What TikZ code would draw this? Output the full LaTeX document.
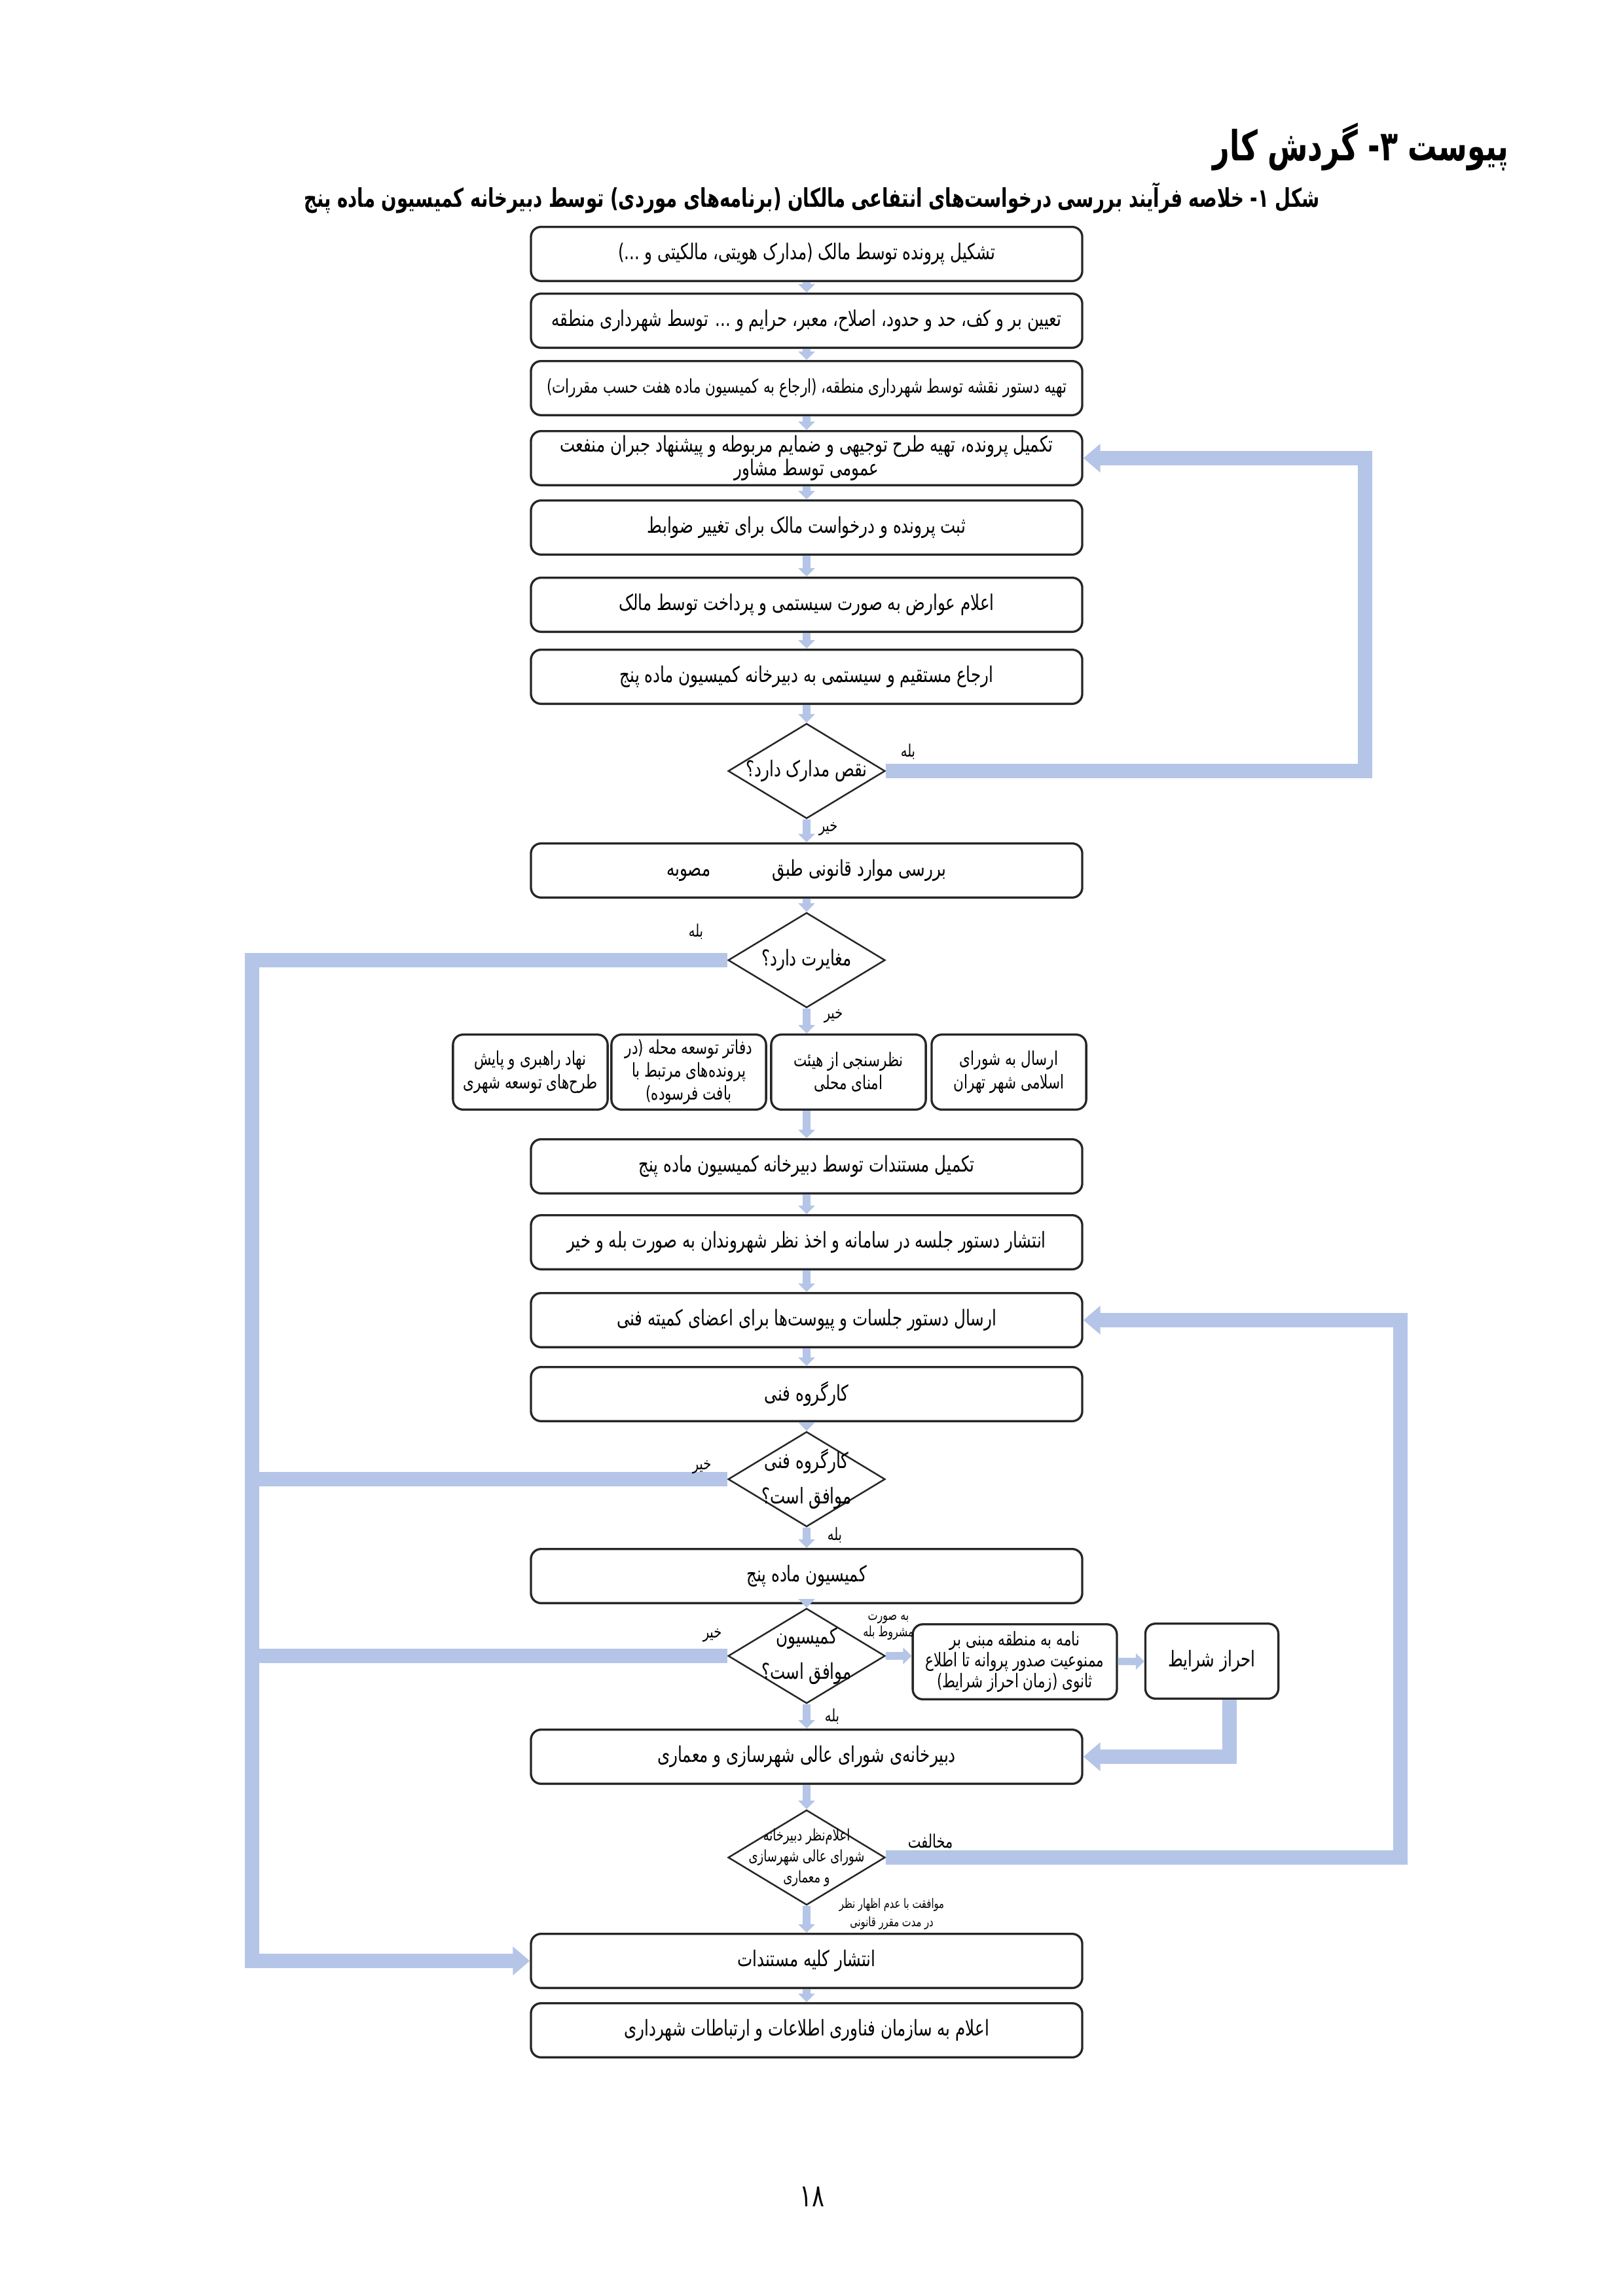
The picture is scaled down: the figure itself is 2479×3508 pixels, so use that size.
\documentclass[tikz,border=0pt]{standalone}
\usepackage{fontspec}
\usetikzlibrary{shapes.geometric,arrows.meta}
\newfontfamily\fafont[Script=Arabic,FakeStretch=0.74]{DejaVu Sans}
\newfontfamily\fahead[Script=Arabic,FakeStretch=0.70]{DejaVu Sans}
\TeXXeTstate=1
\newcommand\fa[1]{\beginR #1\endR}
\definecolor{flowblue}{RGB}{180,197,231}

\begin{document}
\begin{tikzpicture}[x=0.08467mm, y=-0.08467mm,
  every node/.style={font=\fafont\fontsize{8}{8.5}\selectfont, align=center},
  stage/.style={draw=black!85, line width=.8pt, rounded corners=1.3mm, minimum width=71.3mm, minimum height=7mm, inner sep=1pt},
  side/.style={draw=black!85, line width=.8pt, rounded corners=1.3mm, minimum width=20mm, minimum height=9.7mm, inner sep=1pt, font=\fafont\fontsize{7}{8.5}\selectfont},
  query/.style={draw=black!85, line width=.6pt, diamond, minimum width=20.3mm, minimum height=12.3mm, inner sep=0pt},
  tag/.style={font=\fafont\fontsize{6.3}{7}\selectfont, inner sep=0pt},
  flowarrow/.style={draw=flowblue, line width=.95mm, -{Triangle[width=2.1mm,length=1.1mm]}},
  backline/.style={draw=flowblue, line width=1.85mm},
  backflow/.style={backline, -{Triangle[width=3.6mm,length=2.2mm]}}]
\useasboundingbox (0,0) rectangle (2479,3508);
\def\stage{node [stage] }
\def\query{node [query] }

\node [anchor=east, inner sep=0pt, font=\fahead\bfseries\fontsize{15.3}{18}\selectfont] (title) at (2305, 224) {\fa{پیوست ۳- گردش کار}};
\node [font=\fahead\bfseries\fontsize{9.5}{11}\selectfont] (caption) at (1240, 302) {\fa{شکل ۱- خلاصه فرآیند بررسی درخواست‌های انتفاعی مالکان (برنامه‌های موردی) توسط دبیرخانه کمیسیون ماده پنج}};

\draw (1232, 388) \stage (b1) {\fa{تشکیل پرونده توسط مالک (مدارک هویتی، مالکیتی و ...)}};
\draw (1232, 490) \stage (b2) {\fa{تعیین بر و کف، حد و حدود، اصلاح، معبر، حرایم و ... توسط شهرداری منطقه}};
\draw (1232, 593) \stage (b3) {\fontsize{7}{8.5}\selectfont\fa{تهیه دستور نقشه توسط شهرداری منطقه، (ارجاع به کمیسیون ماده هفت حسب مقررات)}};
\draw (1232, 700) \stage (b4) {\fa{تکمیل پرونده، تهیه طرح توجیهی و ضمایم مربوطه و پیشنهاد جبران منفعت}\\\fa{عمومی توسط مشاور}};
\draw (1232, 806) \stage (b5) {\fa{ثبت پرونده و درخواست مالک برای تغییر ضوابط}};
\draw (1232, 924) \stage (b6) {\fa{اعلام عوارض به صورت سیستمی و پرداخت توسط مالک}};
\draw (1232, 1034) \stage (b7) {\fa{ارجاع مستقیم و سیستمی به دبیرخانه کمیسیون ماده پنج}};
\draw (1232, 1178) \query (d1) {};
\draw (1232, 1330) \stage (b8) {\fa{بررسی موارد قانونی طبق\hspace{8mm}مصوبه}};
\draw (1232, 1467) \query (d2) {};
\draw (1541, 1638) node [side] (rA) {\fa{ارسال به شورای}\\\fa{اسلامی شهر تهران}};
\draw (1296, 1638) node [side] (rB) {\fa{نظرسنجی از هیئت}\\\fa{امنای محلی}};
\draw (1052, 1638) node [side] (rC) {\fa{دفاتر توسعه محله (در}\\\fa{پرونده‌های مرتبط با}\\\fa{بافت فرسوده)}};
\draw (810, 1638) node [side] (rD) {\fa{نهاد راهبری و پایش}\\\fa{طرح‌های توسعه شهری}};
\draw (1232, 1782) \stage (b9) {\fa{تکمیل مستندات توسط دبیرخانه کمیسیون ماده پنج}};
\draw (1232, 1898) \stage (b10) {\fa{انتشار دستور جلسه در سامانه و اخذ نظر شهروندان به صورت بله و خیر}};
\draw (1232, 2017) \stage (b11) {\fa{ارسال دستور جلسات و پیوست‌ها برای اعضای کمیته فنی}};
\draw (1232, 2130) \stage (b12) {\fa{کارگروه فنی}};
\draw (1232, 2260) \query (d3) {};
\draw (1232, 2408) \stage (b13) {\fa{کمیسیون ماده پنج}};
\draw (1232, 2530) \query (d4) {};
\draw (1550, 2539) node [side, minimum width=26.4mm, font=\fafont\fontsize{7}{7.8}\selectfont] (letter) {\fa{نامه به منطقه مبنی بر}\\\fa{ممنوعیت صدور پروانه تا اطلاع}\\\fa{ثانوی (زمان احراز شرایط)}};
\draw (1851, 2538) node [side, minimum width=17.2mm, font=\fafont\fontsize{8}{8.5}\selectfont] (cond) {\fa{احراز شرایط}};
\draw (1232, 2684) \stage (b14) {\fa{دبیرخانه‌ی شورای عالی شهرسازی و معماری}};
\draw (1232, 2838) \query (d5) {};
\draw (1232, 2996) \stage (b15) {\fa{انتشار کلیه مستندات}};
\draw (1232, 3102) \stage (b16) {\fa{اعلام به سازمان فناوری اطلاعات و ارتباطات شهرداری}};

\node (t1) at (d1) {\fa{نقص مدارک دارد؟}};
\node (t2) at (d2) {\fa{مغایرت دارد؟}};
\node [font=\fafont\fontsize{8}{13}\selectfont] (t3) at (d3) {\fa{کارگروه فنی}\\\fa{موافق است؟}};
\node [font=\fafont\fontsize{8}{13}\selectfont] (t4) at (d4) {\fa{کمیسیون}\\\fa{موافق است؟}};
\node [font=\fafont\fontsize{5.85}{7.7}\selectfont] (t5) at (d5) {\fa{اعلام‌نظر دبیرخانه}\\\fa{شورای عالی شهرسازی}\\\fa{و معماری}};

\coordinate (leftrail) at (385, 1467);
\coordinate (rightrail) at (2085, 1178);

\draw [flowarrow] (b1) -- (b2);
\draw [flowarrow] (b2) -- (b3);
\draw [flowarrow] (b3) -- (b4);
\draw [flowarrow] (b4) -- (b5);
\draw [flowarrow] (b5) -- (b6);
\draw [flowarrow] (b6) -- (b7);
\draw [flowarrow] (b7) -- (d1);
\draw [flowarrow] (d1) -- (b8);
\draw [flowarrow] (b8) -- (d2);
\draw [flowarrow] (d2) -- (d2 |- rB.north);
\draw [flowarrow] (b9 |- rB.south) -- (b9);
\draw [flowarrow] (b9) -- (b10);
\draw [flowarrow] (b10) -- (b11);
\draw [flowarrow] (b11) -- (b12);
\draw [flowarrow] (b12) -- (d3);
\draw [flowarrow] (d3) -- (b13);
\draw [flowarrow] (b13) -- (d4);
\draw [flowarrow] (d4) -- (b14);
\draw [flowarrow] (d4.east) -- (d4.east -| letter.west);
\draw [flowarrow] (letter) -- (cond);
\draw [flowarrow] (b14) -- (d5);
\draw [flowarrow] (d5) -- (b15);
\draw [flowarrow] (b15) -- (b16);

\draw [backflow] (d1.east) -- (rightrail) |- (b4.east);
\draw [backflow] (d2.west) -- (leftrail) |- (b15.west);
\draw [backline] (d3.west) -- (d3.west -| leftrail);
\draw [backline] (d4.west) -- (d4.west -| leftrail);
\draw [backflow] (d5.east) -- ++(786, 0) |- (b11.east);
\draw [backflow] (cond.south) ++(27, 0) |- (b14.east);

\node [tag] (yes1) at (1387, 1148) {\fa{بله}};
\node [tag] (no1) at (1265, 1267) {\fa{خیر}};
\node [tag] (yes2) at (1063, 1423) {\fa{بله}};
\node [tag] (no2) at (1273, 1553) {\fa{خیر}};
\node [tag] (no3) at (1072, 2242) {\fa{خیر}};
\node [tag] (yes3) at (1275, 2345) {\fa{بله}};
\node [tag] (no4) at (1088, 2499) {\fa{خیر}};
\node [tag] (yes4) at (1271, 2622) {\fa{بله}};
\node [tag, font=\fafont\fontsize{5.2}{6}\selectfont] (cyes) at (1357, 2486) {\fa{به صورت}\\\fa{مشروط بله}};
\node [tag, font=\fafont\fontsize{6.8}{8}\selectfont] (against) at (1421, 2813) {\fa{مخالفت}};
\node [tag, font=\fafont\fontsize{4.8}{6.8}\selectfont] (agree) at (1362, 2924) {\fa{موافقت با عدم اظهار نظر}\\\fa{در مدت مقرر قانونی}};

\node [font=\fafont\fontsize{11.5}{13}\selectfont] (page) at (1240, 3356) {\fa{۱۸}};
\end{tikzpicture}
\end{document}
